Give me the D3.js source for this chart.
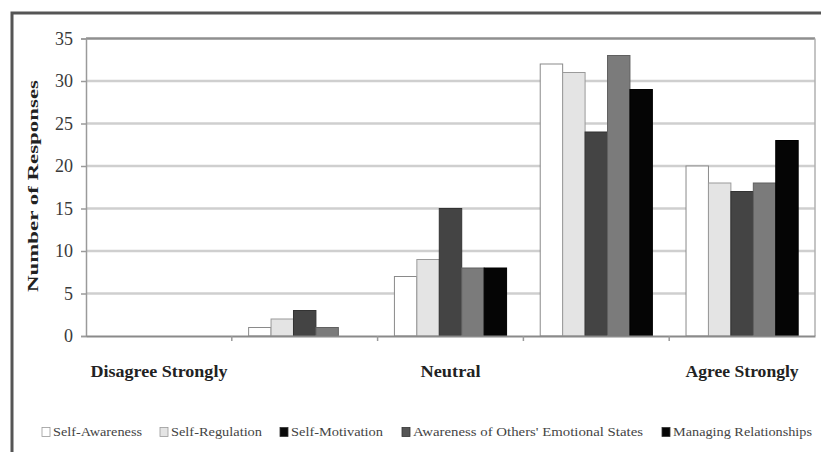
<!DOCTYPE html>
<html><head><meta charset="utf-8">
<script src="https://cdn.jsdelivr.net/npm/d3@7"></script>
<style>body{margin:0;background:#fff}svg{display:block}</style>
</head><body>
<script>
const categories = ["Disagree Strongly", "Disagree", "Neutral", "Agree", "Agree Strongly"];
const categoryLabels = ["Disagree Strongly", "", "Neutral", "", "Agree Strongly"];
const seriesNames = ["Self-Awareness", "Self-Regulation", "Self-Motivation", "Awareness of Others' Emotional States", "Managing Relationships"];
const selfAwareness = [0, 1, 7, 32, 20];
const selfRegulation = [0, 2, 9, 31, 18];
const selfMotivation = [0, 3, 15, 24, 17];
const awarenessOthers = [0, 1, 8, 33, 18];
const managingRel = [0, 0, 8, 29, 23];
const yTicks = [0, 5, 10, 15, 20, 25, 30, 35];

const seriesValues = [selfAwareness, selfRegulation, selfMotivation, awarenessOthers, managingRel];
const barFill = ["#ffffff", "#e4e4e4", "#444444", "#7b7b7b", "#050505"];
const barStroke = ["#8a8a8a", "#9a9a9a", "#333333", "#606060", "#000000"];
const legendFill = ["#ffffff", "#e4e4e4", "#0a0a0a", "#555555", "#050505"];

const W = 821, H = 452;
const serif = "Liberation Serif, Times New Roman, serif";
const svg = d3.select("body").append("svg").attr("width", W).attr("height", H);
const m = {left: 86, right: 815, top: 37, bottom: 336};

// outer frame
svg.append("path").attr("d", `M12,${H+5} L12,13 L${W+5},13`).attr("fill", "none")
  .attr("stroke", "#555").attr("stroke-width", 3);

const x = d3.scaleBand().domain(categories).range([m.left, m.right]).paddingInner(0).paddingOuter(0);
const x1 = d3.scaleBand().domain(d3.range(seriesNames.length)).range([0, x.bandwidth()]).paddingOuter(0.75).paddingInner(0);
const y = d3.scaleLinear().domain([0, 35]).range([m.bottom, m.top + 1.5]);

// gridlines
svg.append("g").selectAll("line").data(yTicks.filter(t => t > 0)).join("line")
  .attr("x1", m.left).attr("x2", m.right)
  .attr("y1", d => y(d)).attr("y2", d => y(d))
  .attr("stroke", d => d === 35 ? "#8f8f8f" : "#cfcfcf").attr("stroke-width", 2.5);

// right border
svg.append("line").attr("x1", m.right).attr("x2", m.right).attr("y1", y(35)).attr("y2", m.bottom)
  .attr("stroke", "#b0b0b0").attr("stroke-width", 1.5);

// bars
const groups = svg.append("g").selectAll("g").data(categories).join("g")
  .attr("transform", c => `translate(${x(c)},0)`);
groups.selectAll("rect").data((c, ci) => seriesValues.map((s, si) => ({si, v: s[ci]})).filter(d => d.v > 0)).join("rect")
  .attr("x", d => x1(d.si)).attr("width", x1.bandwidth())
  .attr("y", d => y(d.v)).attr("height", d => y(0) - y(d.v))
  .attr("fill", d => barFill[d.si]).attr("stroke", d => barStroke[d.si]).attr("stroke-width", 1);

// y axis
const yAxis = d3.axisLeft(y).tickValues(yTicks).tickSize(5).tickPadding(8).tickFormat(d3.format("d"));
const ya = svg.append("g").attr("transform", `translate(${m.left},0)`).call(yAxis);
ya.select(".domain").attr("stroke", "#9a9a9a").attr("stroke-width", 1.5);
ya.selectAll(".tick line").attr("stroke", "#9a9a9a").attr("stroke-width", 1.5);
ya.selectAll("text").attr("font-family", serif).attr("font-size", 18).attr("fill", "#3a3a3a");

// x axis
const xAxis = d3.axisBottom(x).tickSize(0).tickFormat((d, i) => categoryLabels[i]);
const xa = svg.append("g").attr("transform", `translate(0,${m.bottom})`).call(xAxis);
xa.select(".domain").attr("stroke", "#8a8a8a").attr("stroke-width", 2);
const labelLen = [137, 0, 60, 0, 113];
xa.selectAll("text").attr("font-family", serif).attr("font-size", 16)
  .attr("font-weight", "bold").attr("fill", "#222").attr("dy", 0).attr("y", 41)
  .each(function(d, i) { if (labelLen[i]) d3.select(this).attr("textLength", labelLen[i]).attr("lengthAdjust", "spacingAndGlyphs"); });
// category boundary ticks
svg.append("g").selectAll("line").data(categories.slice(1)).join("line")
  .attr("x1", c => x(c)).attr("x2", c => x(c)).attr("y1", m.bottom).attr("y2", m.bottom + 5)
  .attr("stroke", "#9a9a9a").attr("stroke-width", 1.5);

// y title
svg.append("text").attr("transform", `translate(38,186) rotate(-90)`)
  .attr("text-anchor", "middle").attr("font-family", serif)
  .attr("font-size", 15).attr("font-weight", "bold").attr("fill", "#222")
  .attr("textLength", 212).attr("lengthAdjust", "spacingAndGlyphs").text("Number of Responses");

// legend
const legendStarts = [42, 160, 280, 402, 662];
const legendWidths = [100, 102, 103, 241, 150];
const lg = svg.append("g").attr("font-family", serif).attr("font-size", 11.5).attr("fill", "#444");
seriesNames.forEach((n, i) => {
  const g = lg.append("g").attr("transform", `translate(${legendStarts[i]},432)`);
  g.append("rect").attr("x", 0).attr("y", -4.5).attr("width", 8).attr("height", 9)
    .attr("fill", legendFill[i]).attr("stroke", i < 2 ? "#999" : "#333").attr("stroke-width", 0.8);
  g.append("text").attr("x", 11).attr("y", 4).attr("textLength", legendWidths[i] - 11)
    .attr("lengthAdjust", "spacingAndGlyphs").text(n);
});
</script>
</body></html>
